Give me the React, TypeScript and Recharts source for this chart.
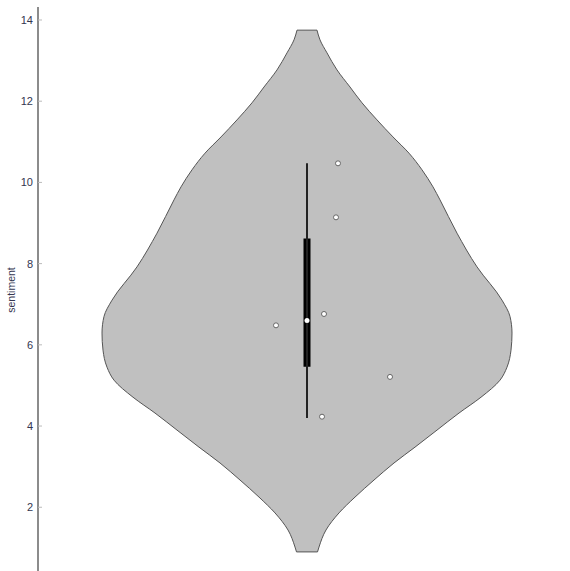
import { Area, ComposedChart, ReferenceArea, ReferenceDot, ReferenceLine, Scatter, XAxis, YAxis } from 'recharts'

// violin outline: sentiment value and half width of the density (in x units)
const violinValues = [13.75, 13.51, 13.19, 12.77, 12.35, 11.96, 11.54, 11.12, 10.72, 10.31, 9.89, 9.57, 8.75, 7.92, 7.1, 6.7, 6.29, 5.87, 5.45, 5.13, 4.71, 4.32, 3.9, 3.48, 3.09, 2.67, 2.25, 1.86, 1.44, 1.02, 0.9]
const violinHalfWidth = [10, 13, 20, 30, 43, 55, 70, 86, 102, 115, 126, 133, 150, 170, 195, 203, 205, 204, 200, 193, 174, 152, 130, 108, 87, 67, 48, 32, 19, 12, 10.5]

// observations and their horizontal jitter
const pointValues = [10.47, 9.14, 6.76, 6.48, 5.21, 4.23]
const pointJitter = [31, 29, 17, -31, 83, 15]

// box summary
const whiskerLow = 4.2
const whiskerHigh = 10.47
const boxLow = 5.46
const boxHigh = 8.62
const median = 6.6

const yTicks = [2, 4, 6, 8, 10, 12, 14]

const violinData = violinValues.map((v, i) => ({ v, lo: -violinHalfWidth[i], hi: violinHalfWidth[i] }))
const pointData = pointValues.map((v, i) => ({ v, x: pointJitter[i] }))

const top = violinData[0]
const bottom = violinData[violinData.length - 1]

function Tick(props: any) {
  const { x, y, payload } = props
  return (
    <g>
      <line x1={x + 5} x2={x + 9} y1={y} y2={y} stroke="#bbb" />
      <text x={x} y={y} dy={4} textAnchor="end" fontSize={11} fill="#333650" fontFamily="Liberation Sans, sans-serif">
        {payload.value}
      </text>
    </g>
  )
}

export default function App() {
  return (
    <div style={{ position: 'absolute', left: 0, top: 0, background: '#fff' }}>
      <ComposedChart
        width={570}
        height={571}
        layout="vertical"
        data={violinData}
        margin={{ top: 7, right: 0, bottom: 0, left: 0 }}
      >
        <XAxis type="number" dataKey="x" domain={[-269, 263]} hide allowDataOverflow />
        <YAxis
          type="number"
          dataKey="v"
          reversed
          domain={[0.43, 14.32]}
          ticks={yTicks}
          width={38}
          tickSize={0}
          tickMargin={5}
          tickLine={false}
          tick={<Tick />}
          axisLine={{ stroke: '#666', strokeWidth: 1.5 }}
          allowDataOverflow
          label={{
            content: () => (
              <text
                x={11}
                y={290}
                transform="rotate(-90 11 290)"
                textAnchor="middle"
                dy={4}
                fontSize={10.5}
                fill="#333650"
                fontFamily="Liberation Sans, sans-serif"
              >
                sentiment
              </text>
            ),
          }}
        />
        <Area
          type="monotone"
          dataKey={(d: any) => [d.lo, d.hi]}
          fill="#c0c0c0"
          fillOpacity={1}
          stroke="#555"
          strokeWidth={1}
          isAnimationActive={false}
        />
        <ReferenceLine segment={[{ x: top.lo, y: top.v }, { x: top.hi, y: top.v }]} stroke="#555" />
        <ReferenceLine segment={[{ x: bottom.lo, y: bottom.v }, { x: bottom.hi, y: bottom.v }]} stroke="#555" />
        <ReferenceLine segment={[{ x: 0, y: whiskerLow }, { x: 0, y: whiskerHigh }]} stroke="#222" strokeWidth={2} />
        <ReferenceArea x1={-3.5} x2={3.5} y1={boxLow} y2={boxHigh} fill="#000" fillOpacity={1} stroke="none" />
        <ReferenceDot x={0} y={median} r={2.5} fill="#fff" stroke="none" />
        <Scatter
          data={pointData}
          dataKey="x"
          isAnimationActive={false}
          shape={(p: any) => <circle cx={p.cx} cy={p.cy} r={2.5} fill="#fff" stroke="#666" strokeWidth={1} />}
        />
      </ComposedChart>
    </div>
  )
}
